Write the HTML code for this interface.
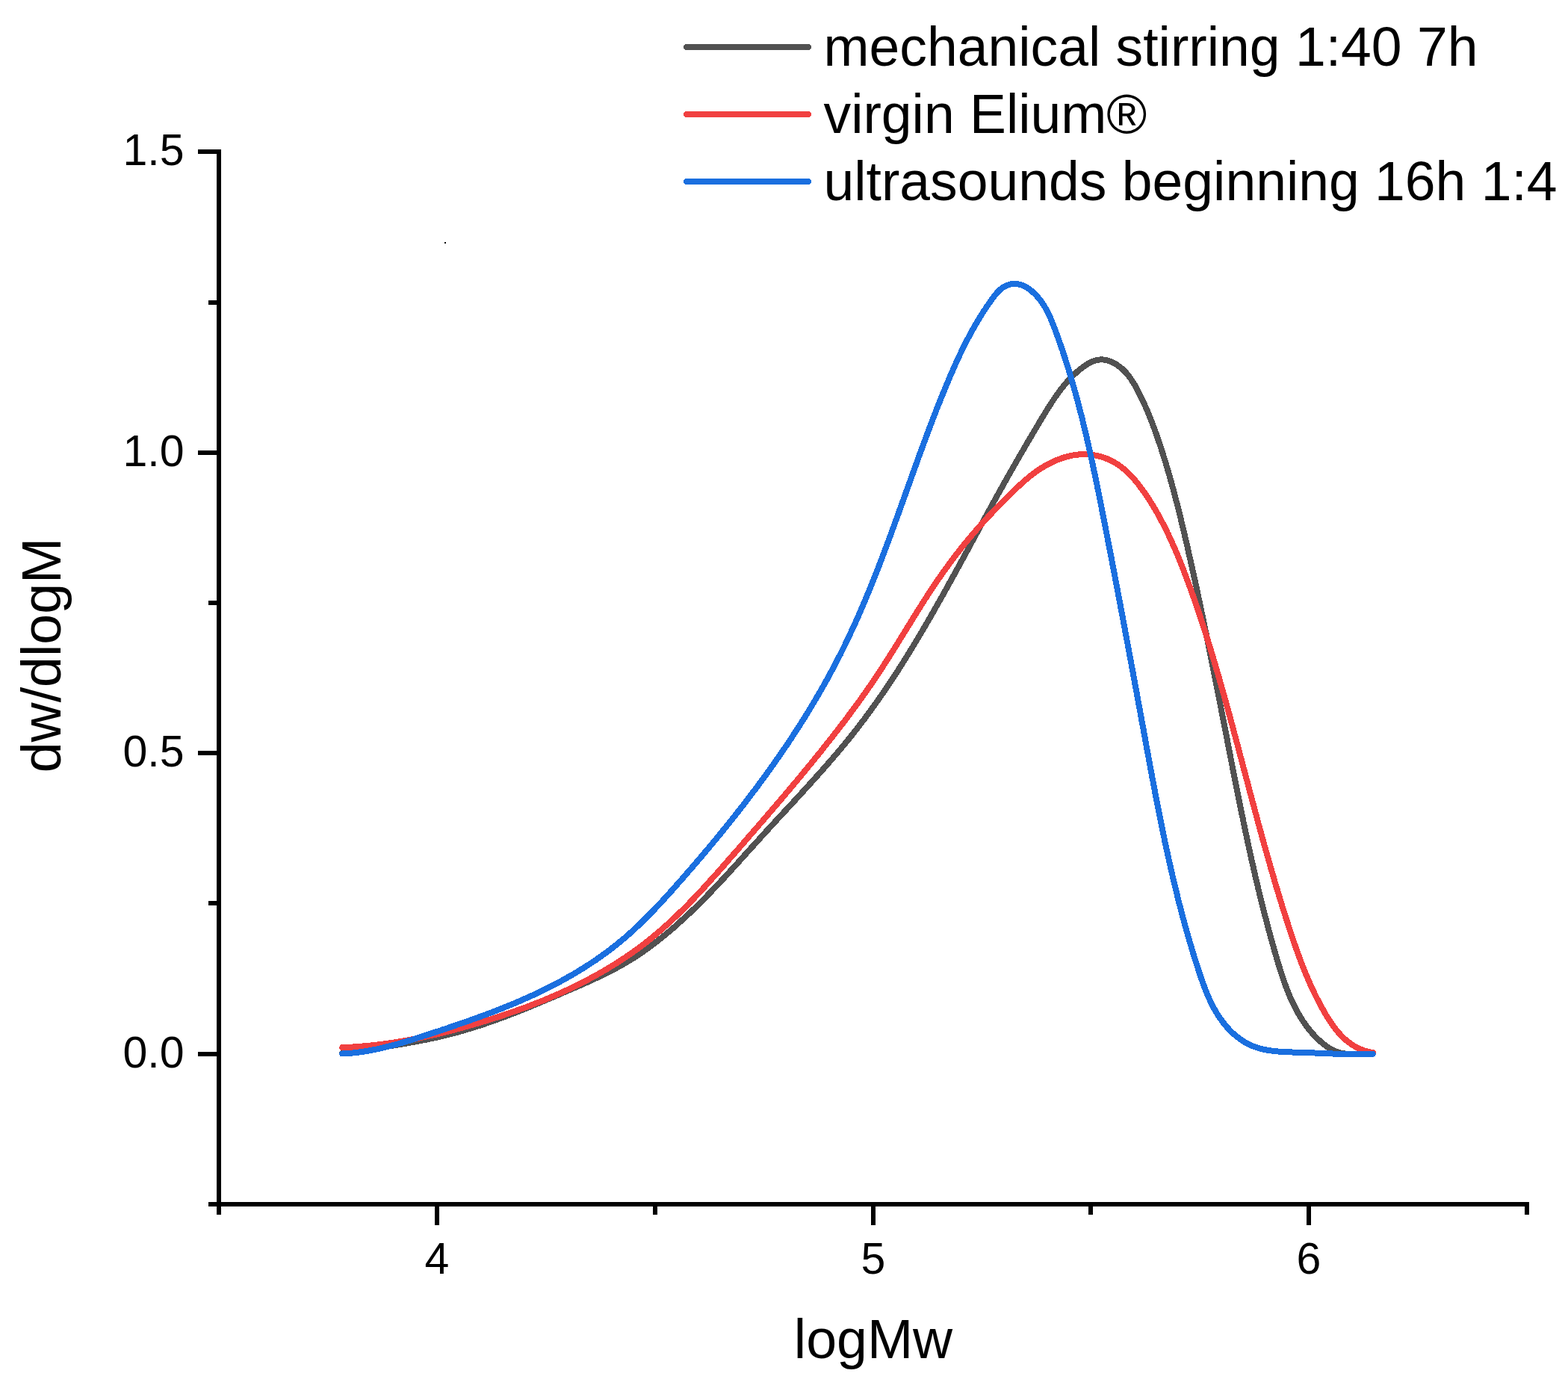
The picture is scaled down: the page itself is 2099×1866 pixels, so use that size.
<!DOCTYPE html>
<html><head><meta charset="utf-8"><style>
html,body{margin:0;padding:0;background:#fff;overflow:hidden;width:2099px;height:1866px;}
svg{display:block;}
text{font-family:"Liberation Sans", Arial, sans-serif;fill:#000;}
</style></head><body>
<svg width="2099" height="1866" viewBox="0 0 2099 1866">
<rect width="2099" height="1866" fill="#fff"/>
<rect x="290" y="200" width="6" height="1415" fill="#000"/>
<rect x="290" y="1609" width="1757" height="6" fill="#000"/>
<rect x="265" y="200" width="25" height="6" fill="#000"/>
<rect x="279" y="402" width="11" height="6" fill="#000"/>
<rect x="265" y="603" width="25" height="6" fill="#000"/>
<rect x="279" y="804" width="11" height="6" fill="#000"/>
<rect x="265" y="1005" width="25" height="6" fill="#000"/>
<rect x="279" y="1206" width="11" height="6" fill="#000"/>
<rect x="265" y="1408" width="25" height="6" fill="#000"/>
<rect x="279" y="1609" width="11" height="6" fill="#000"/>
<rect x="290" y="1615" width="6" height="11" fill="#000"/>
<rect x="582" y="1615" width="6" height="25" fill="#000"/>
<rect x="874" y="1615" width="6" height="11" fill="#000"/>
<rect x="1166" y="1615" width="6" height="25" fill="#000"/>
<rect x="1457" y="1615" width="6" height="11" fill="#000"/>
<rect x="1749" y="1615" width="6" height="25" fill="#000"/>
<rect x="2041" y="1615" width="6" height="11" fill="#000"/>
<text x="246.5" y="1429.0" text-anchor="end" font-size="59">0.0</text>
<text x="246.5" y="1026.0" text-anchor="end" font-size="59">0.5</text>
<text x="246.5" y="624.0" text-anchor="end" font-size="59">1.0</text>
<text x="246.5" y="221.0" text-anchor="end" font-size="59">1.5</text>
<text x="585.0" y="1705" text-anchor="middle" font-size="59">4</text>
<text x="1169.0" y="1705" text-anchor="middle" font-size="59">5</text>
<text x="1752.0" y="1705" text-anchor="middle" font-size="59">6</text>
<text x="1169" y="1818" text-anchor="middle" font-size="73.5">logMw</text>
<text transform="translate(81.3,877) rotate(-90)" x="0" y="0" text-anchor="middle" font-size="73.5">dw/dlogM</text>
<rect x="595" y="324" width="2" height="2" fill="#000"/>
<path d="M458.3,1409.8 L461.4,1409.3 464.4,1408.9 467.5,1408.4 470.6,1407.9 473.7,1407.5 476.8,1407.0 479.9,1406.6 482.9,1406.1 486.0,1405.7 489.1,1405.2 492.2,1404.7 495.3,1404.3 498.4,1403.8 501.5,1403.4 504.5,1402.9 507.6,1402.4 510.7,1402.0 513.8,1401.5 516.9,1401.0 520.0,1400.5 523.1,1400.1 526.2,1399.6 529.2,1399.1 532.3,1398.6 535.4,1398.1 538.5,1397.5 541.6,1397.0 544.6,1396.5 547.7,1395.9 550.8,1395.4 553.9,1394.8 556.9,1394.3 560.0,1393.7 563.1,1393.1 566.1,1392.5 569.2,1391.9 572.2,1391.3 575.3,1390.6 578.3,1390.0 581.4,1389.3 584.4,1388.7 587.5,1388.0 590.5,1387.3 593.5,1386.6 596.6,1385.8 599.6,1385.1 602.6,1384.3 605.6,1383.5 608.7,1382.7 611.7,1381.9 614.7,1381.1 617.7,1380.3 620.7,1379.4 623.6,1378.5 626.6,1377.6 629.6,1376.7 632.6,1375.8 635.6,1374.9 638.5,1373.9 641.5,1373.0 644.5,1372.0 647.4,1371.0 650.4,1370.0 653.3,1369.0 656.3,1368.0 659.2,1366.9 662.2,1365.9 665.1,1364.8 668.0,1363.8 671.0,1362.7 673.9,1361.6 676.8,1360.5 679.7,1359.4 682.7,1358.3 685.6,1357.1 688.5,1356.0 691.4,1354.9 694.3,1353.7 697.2,1352.6 700.1,1351.4 703.0,1350.2 705.9,1349.1 708.8,1347.9 711.7,1346.7 714.6,1345.5 717.5,1344.3 720.4,1343.1 723.3,1341.9 726.1,1340.7 729.0,1339.5 731.9,1338.2 734.8,1337.0 737.7,1335.8 740.5,1334.6 743.4,1333.3 746.3,1332.1 749.2,1330.9 752.0,1329.6 754.9,1328.4 757.8,1327.2 760.6,1325.9 763.5,1324.7 766.3,1323.5 769.2,1322.2 772.1,1321.0 774.9,1319.7 777.8,1318.5 780.6,1317.2 783.5,1315.9 786.3,1314.7 789.1,1313.4 792.0,1312.1 794.8,1310.8 797.6,1309.5 800.4,1308.2 803.2,1306.8 806.0,1305.5 808.8,1304.1 811.6,1302.7 814.4,1301.3 817.2,1299.9 819.9,1298.5 822.7,1297.0 825.4,1295.6 828.1,1294.1 830.9,1292.6 833.6,1291.0 836.3,1289.5 839.0,1287.9 841.7,1286.3 844.3,1284.7 847.0,1283.1 849.6,1281.4 852.3,1279.7 854.9,1278.0 857.5,1276.2 860.1,1274.4 862.7,1272.6 865.2,1270.8 867.8,1269.0 870.3,1267.1 872.8,1265.2 875.3,1263.3 877.8,1261.4 880.3,1259.5 882.8,1257.5 885.2,1255.6 887.7,1253.6 890.1,1251.6 892.5,1249.6 894.9,1247.6 897.3,1245.6 899.7,1243.6 902.0,1241.5 904.4,1239.5 906.7,1237.4 909.0,1235.3 911.3,1233.2 913.6,1231.1 915.9,1229.0 918.2,1226.9 920.5,1224.8 922.8,1222.6 925.0,1220.5 927.2,1218.3 929.5,1216.2 931.7,1214.0 933.9,1211.8 936.1,1209.6 938.3,1207.4 940.5,1205.2 942.7,1203.0 944.9,1200.8 947.1,1198.6 949.2,1196.3 951.4,1194.1 953.5,1191.8 955.7,1189.6 957.8,1187.3 960.0,1185.1 962.1,1182.8 964.2,1180.5 966.3,1178.2 968.5,1176.0 970.6,1173.7 972.7,1171.4 974.8,1169.1 976.9,1166.8 979.0,1164.5 981.1,1162.2 983.2,1159.9 985.3,1157.6 987.4,1155.3 989.5,1153.0 991.6,1150.6 993.6,1148.3 995.7,1146.0 997.8,1143.7 999.9,1141.4 1002.0,1139.1 1004.1,1136.7 1006.2,1134.4 1008.3,1132.1 1010.4,1129.8 1012.5,1127.5 1014.6,1125.2 1016.7,1122.8 1018.8,1120.5 1020.9,1118.2 1023.0,1115.9 1025.1,1113.6 1027.2,1111.3 1029.3,1109.0 1031.4,1106.7 1033.6,1104.4 1035.7,1102.1 1037.8,1099.8 1039.9,1097.5 1042.0,1095.2 1044.2,1092.9 1046.3,1090.6 1048.4,1088.3 1050.6,1086.0 1052.7,1083.7 1054.8,1081.4 1056.9,1079.1 1059.1,1076.8 1061.2,1074.5 1063.3,1072.2 1065.4,1069.9 1067.5,1067.6 1069.7,1065.3 1071.8,1063.0 1073.9,1060.7 1076.0,1058.4 1078.1,1056.1 1080.2,1053.8 1082.3,1051.4 1084.4,1049.1 1086.5,1046.8 1088.6,1044.5 1090.7,1042.2 1092.8,1039.8 1094.9,1037.5 1097.0,1035.2 1099.1,1032.8 1101.1,1030.5 1103.2,1028.2 1105.3,1025.8 1107.3,1023.5 1109.4,1021.1 1111.4,1018.7 1113.5,1016.4 1115.5,1014.0 1117.5,1011.6 1119.6,1009.3 1121.6,1006.9 1123.6,1004.5 1125.6,1002.1 1127.6,999.7 1129.6,997.3 1131.6,994.9 1133.5,992.5 1135.5,990.1 1137.5,987.7 1139.4,985.2 1141.4,982.8 1143.3,980.3 1145.2,977.9 1147.1,975.4 1149.0,973.0 1150.9,970.5 1152.8,968.0 1154.7,965.5 1156.6,963.1 1158.4,960.6 1160.3,958.1 1162.1,955.6 1164.0,953.1 1165.8,950.5 1167.6,948.0 1169.5,945.5 1171.3,943.0 1173.1,940.4 1174.9,937.9 1176.7,935.3 1178.4,932.8 1180.2,930.2 1182.0,927.6 1183.7,925.1 1185.5,922.5 1187.2,919.9 1189.0,917.3 1190.7,914.7 1192.4,912.2 1194.2,909.6 1195.9,907.0 1197.6,904.3 1199.3,901.7 1201.0,899.1 1202.7,896.5 1204.3,893.9 1206.0,891.2 1207.7,888.6 1209.3,886.0 1211.0,883.3 1212.7,880.7 1214.3,878.0 1216.0,875.4 1217.6,872.7 1219.2,870.1 1220.8,867.4 1222.5,864.7 1224.1,862.1 1225.7,859.4 1227.3,856.7 1228.9,854.1 1230.5,851.4 1232.1,848.7 1233.7,846.0 1235.3,843.3 1236.9,840.6 1238.5,837.9 1240.0,835.2 1241.6,832.5 1243.2,829.8 1244.7,827.1 1246.3,824.4 1247.8,821.7 1249.4,819.0 1250.9,816.3 1252.5,813.5 1254.0,810.8 1255.6,808.1 1257.1,805.4 1258.7,802.7 1260.2,799.9 1261.7,797.2 1263.2,794.5 1264.8,791.7 1266.3,789.0 1267.8,786.3 1269.3,783.5 1270.8,780.8 1272.3,778.1 1273.9,775.3 1275.4,772.6 1276.9,769.8 1278.4,767.1 1279.9,764.4 1281.4,761.6 1282.9,758.9 1284.4,756.1 1285.9,753.4 1287.4,750.6 1288.9,747.9 1290.4,745.1 1291.9,742.4 1293.4,739.7 1294.9,736.9 1296.3,734.2 1297.8,731.4 1299.3,728.7 1300.8,725.9 1302.3,723.2 1303.8,720.4 1305.3,717.7 1306.8,714.9 1308.3,712.2 1309.8,709.4 1311.3,706.7 1312.7,704.0 1314.2,701.2 1315.7,698.5 1317.2,695.7 1318.7,693.0 1320.2,690.3 1321.7,687.5 1323.2,684.8 1324.7,682.1 1326.2,679.3 1327.7,676.6 1329.2,673.9 1330.7,671.1 1332.2,668.4 1333.7,665.7 1335.2,663.0 1336.7,660.2 1338.2,657.5 1339.7,654.8 1341.3,652.1 1342.8,649.4 1344.3,646.7 1345.8,644.0 1347.3,641.3 1348.9,638.5 1350.4,635.8 1351.9,633.1 1353.5,630.4 1355.0,627.7 1356.5,625.0 1358.1,622.3 1359.6,619.6 1361.2,616.9 1362.7,614.2 1364.3,611.5 1365.8,608.8 1367.4,606.2 1369.0,603.5 1370.5,600.8 1372.1,598.1 1373.7,595.4 1375.2,592.7 1376.8,590.0 1378.4,587.3 1380.0,584.6 1381.6,581.9 1383.2,579.2 1384.8,576.5 1386.4,573.9 1388.0,571.2 1389.6,568.5 1391.2,565.8 1392.8,563.1 1394.4,560.4 1396.1,557.7 1397.7,555.0 1399.3,552.3 1401.0,549.6 1402.6,547.0 1404.3,544.3 1406.0,541.6 1407.7,539.0 1409.4,536.4 1411.2,533.8 1412.9,531.2 1414.7,528.6 1416.6,526.1 1418.4,523.5 1420.3,521.1 1422.2,518.6 1424.2,516.2 1426.1,513.8 1428.2,511.4 1430.2,509.1 1432.3,506.9 1434.5,504.7 1436.7,502.5 1438.9,500.4 1441.2,498.3 1443.6,496.3 1446.0,494.3 1448.5,492.4 1451.0,490.6 1453.6,488.8 1456.2,487.1 1458.9,485.6 1461.7,484.3 1464.5,483.2 1467.3,482.3 1470.2,481.7 1473.1,481.4 1476.1,481.4 1479.1,481.8 1482.1,482.4 1485.1,483.3 1488.0,484.5 1490.9,485.9 1493.8,487.5 1496.5,489.3 1499.1,491.2 1501.6,493.2 1504.0,495.4 1506.2,497.6 1508.3,500.0 1510.3,502.4 1512.2,504.9 1514.0,507.5 1515.7,510.1 1517.4,512.7 1519.0,515.4 1520.5,518.2 1522.0,520.9 1523.5,523.7 1524.9,526.5 1526.3,529.3 1527.7,532.1 1529.1,534.9 1530.4,537.8 1531.7,540.6 1533.0,543.5 1534.3,546.3 1535.5,549.2 1536.7,552.1 1537.9,555.0 1539.1,557.9 1540.3,560.8 1541.4,563.7 1542.5,566.6 1543.6,569.5 1544.7,572.4 1545.8,575.4 1546.8,578.3 1547.9,581.2 1548.9,584.2 1549.9,587.1 1550.9,590.1 1551.9,593.0 1552.9,596.0 1553.9,599.0 1554.9,601.9 1555.8,604.9 1556.8,607.9 1557.7,610.8 1558.6,613.8 1559.5,616.8 1560.5,619.8 1561.4,622.8 1562.3,625.7 1563.1,628.7 1564.0,631.7 1564.9,634.7 1565.7,637.7 1566.6,640.7 1567.4,643.7 1568.3,646.7 1569.1,649.7 1569.9,652.7 1570.7,655.7 1571.5,658.7 1572.3,661.8 1573.1,664.8 1573.9,667.8 1574.7,670.8 1575.5,673.8 1576.3,676.8 1577.0,679.9 1577.8,682.9 1578.5,685.9 1579.3,688.9 1580.0,692.0 1580.8,695.0 1581.5,698.0 1582.2,701.1 1583.0,704.1 1583.7,707.1 1584.4,710.2 1585.1,713.2 1585.8,716.2 1586.5,719.3 1587.3,722.3 1588.0,725.4 1588.7,728.4 1589.4,731.4 1590.1,734.5 1590.8,737.5 1591.4,740.6 1592.1,743.6 1592.8,746.7 1593.5,749.7 1594.2,752.8 1594.9,755.8 1595.6,758.9 1596.2,761.9 1596.9,765.0 1597.6,768.0 1598.2,771.1 1598.9,774.1 1599.6,777.2 1600.2,780.2 1600.9,783.3 1601.6,786.3 1602.2,789.4 1602.9,792.4 1603.5,795.5 1604.2,798.5 1604.8,801.6 1605.5,804.6 1606.1,807.7 1606.8,810.7 1607.4,813.8 1608.1,816.9 1608.7,819.9 1609.4,823.0 1610.0,826.0 1610.6,829.1 1611.3,832.1 1611.9,835.2 1612.5,838.3 1613.2,841.3 1613.8,844.4 1614.4,847.4 1615.1,850.5 1615.7,853.6 1616.3,856.6 1616.9,859.7 1617.6,862.7 1618.2,865.8 1618.8,868.9 1619.4,871.9 1620.0,875.0 1620.6,878.1 1621.3,881.1 1621.9,884.2 1622.5,887.2 1623.1,890.3 1623.7,893.4 1624.3,896.4 1624.9,899.5 1625.5,902.6 1626.2,905.6 1626.8,908.7 1627.4,911.7 1628.0,914.8 1628.6,917.9 1629.2,920.9 1629.8,924.0 1630.4,927.1 1631.0,930.1 1631.6,933.2 1632.2,936.3 1632.8,939.3 1633.4,942.4 1634.0,945.4 1634.6,948.5 1635.2,951.6 1635.8,954.6 1636.4,957.7 1637.0,960.8 1637.6,963.8 1638.2,966.9 1638.8,969.9 1639.4,973.0 1640.0,976.1 1640.6,979.1 1641.2,982.2 1641.8,985.3 1642.4,988.3 1643.0,991.4 1643.5,994.4 1644.1,997.5 1644.7,1000.6 1645.3,1003.6 1645.9,1006.7 1646.5,1009.7 1647.1,1012.8 1647.7,1015.9 1648.3,1018.9 1648.9,1022.0 1649.5,1025.0 1650.1,1028.1 1650.7,1031.2 1651.3,1034.2 1651.9,1037.3 1652.5,1040.3 1653.1,1043.4 1653.7,1046.4 1654.3,1049.5 1654.9,1052.6 1655.5,1055.6 1656.1,1058.7 1656.8,1061.7 1657.4,1064.8 1658.0,1067.8 1658.6,1070.9 1659.2,1073.9 1659.8,1077.0 1660.4,1080.0 1661.1,1083.1 1661.7,1086.2 1662.3,1089.2 1662.9,1092.3 1663.6,1095.3 1664.2,1098.4 1664.8,1101.4 1665.5,1104.5 1666.1,1107.5 1666.7,1110.6 1667.4,1113.6 1668.0,1116.7 1668.7,1119.7 1669.3,1122.8 1670.0,1125.8 1670.6,1128.8 1671.3,1131.9 1671.9,1134.9 1672.6,1138.0 1673.3,1141.0 1673.9,1144.1 1674.6,1147.1 1675.3,1150.2 1676.0,1153.2 1676.7,1156.3 1677.4,1159.3 1678.0,1162.3 1678.7,1165.4 1679.4,1168.4 1680.1,1171.5 1680.8,1174.5 1681.6,1177.5 1682.3,1180.6 1683.0,1183.6 1683.7,1186.7 1684.4,1189.7 1685.2,1192.7 1685.9,1195.8 1686.6,1198.8 1687.4,1201.9 1688.1,1204.9 1688.9,1207.9 1689.6,1211.0 1690.4,1214.0 1691.2,1217.0 1691.9,1220.1 1692.7,1223.1 1693.5,1226.1 1694.3,1229.2 1695.1,1232.2 1695.9,1235.2 1696.7,1238.2 1697.5,1241.3 1698.3,1244.3 1699.1,1247.3 1699.9,1250.4 1700.7,1253.4 1701.6,1256.4 1702.4,1259.4 1703.3,1262.5 1704.1,1265.5 1705.0,1268.5 1705.8,1271.5 1706.7,1274.6 1707.6,1277.6 1708.5,1280.6 1709.3,1283.6 1710.2,1286.7 1711.1,1289.7 1712.1,1292.7 1713.0,1295.7 1713.9,1298.7 1714.9,1301.7 1715.8,1304.7 1716.8,1307.7 1717.8,1310.6 1718.9,1313.6 1719.9,1316.5 1721.0,1319.5 1722.1,1322.4 1723.2,1325.3 1724.4,1328.2 1725.5,1331.1 1726.7,1333.9 1728.0,1336.8 1729.2,1339.6 1730.5,1342.4 1731.9,1345.2 1733.3,1347.9 1734.7,1350.7 1736.1,1353.4 1737.6,1356.0 1739.2,1358.7 1740.7,1361.3 1742.4,1363.9 1744.0,1366.5 1745.7,1369.0 1747.5,1371.6 1749.3,1374.0 1751.2,1376.5 1753.1,1378.9 1755.1,1381.3 1757.1,1383.6 1759.2,1385.9 1761.4,1388.2 1763.6,1390.4 1765.9,1392.5 1768.2,1394.6 1770.6,1396.7 1773.0,1398.6 1775.6,1400.5 1778.2,1402.2 1780.8,1403.8 1783.5,1405.3 1786.3,1406.6 1789.1,1407.8 1792.0,1408.8 1795.0,1409.6 1798.1,1410.2 1801.2,1410.6 1804.3,1410.8 1807.5,1410.9 1810.8,1410.8 1814.0,1410.7 1817.3,1410.5 1820.5,1410.4 1823.7,1410.2 1826.9,1410.1 1830.0,1410.1 1833.1,1410.3 1836.0,1410.6" fill="none" stroke="#515151" stroke-width="8" stroke-linejoin="round" stroke-linecap="round" shape-rendering="crispEdges"/>
<path d="M458.3,1402.2 L461.2,1402.1 464.0,1401.9 466.9,1401.8 469.7,1401.6 472.6,1401.5 475.4,1401.3 478.3,1401.1 481.1,1400.9 484.0,1400.6 486.8,1400.4 489.6,1400.1 492.4,1399.9 495.2,1399.6 498.1,1399.3 500.9,1399.0 503.7,1398.7 506.5,1398.4 509.3,1398.0 512.1,1397.7 514.9,1397.3 517.6,1396.9 520.4,1396.5 523.2,1396.1 526.0,1395.7 528.8,1395.3 531.5,1394.9 534.3,1394.4 537.1,1394.0 539.8,1393.5 542.6,1393.0 545.4,1392.5 548.1,1392.0 550.9,1391.5 553.6,1391.0 556.4,1390.5 559.1,1389.9 561.9,1389.4 564.6,1388.8 567.3,1388.2 570.1,1387.6 572.8,1387.0 575.5,1386.4 578.3,1385.8 581.0,1385.2 583.7,1384.6 586.4,1383.9 589.2,1383.3 591.9,1382.6 594.6,1382.0 597.3,1381.3 600.0,1380.6 602.8,1379.9 605.5,1379.2 608.2,1378.5 610.9,1377.8 613.6,1377.0 616.3,1376.3 619.0,1375.6 621.7,1374.8 624.4,1374.1 627.2,1373.3 629.9,1372.5 632.6,1371.7 635.3,1370.9 638.0,1370.2 640.7,1369.4 643.4,1368.5 646.1,1367.7 648.8,1366.9 651.5,1366.1 654.2,1365.2 656.9,1364.4 659.6,1363.5 662.3,1362.7 665.0,1361.8 667.7,1360.9 670.4,1360.0 673.1,1359.1 675.8,1358.2 678.4,1357.3 681.1,1356.4 683.8,1355.5 686.5,1354.5 689.2,1353.6 691.8,1352.6 694.5,1351.7 697.2,1350.7 699.9,1349.7 702.5,1348.8 705.2,1347.8 707.8,1346.8 710.5,1345.7 713.1,1344.7 715.8,1343.7 718.4,1342.6 721.1,1341.6 723.7,1340.5 726.3,1339.5 729.0,1338.4 731.6,1337.3 734.2,1336.2 736.8,1335.1 739.4,1334.0 742.0,1332.9 744.6,1331.7 747.2,1330.6 749.8,1329.4 752.4,1328.3 755.0,1327.1 757.6,1325.9 760.1,1324.7 762.7,1323.5 765.2,1322.3 767.8,1321.0 770.3,1319.8 772.9,1318.5 775.4,1317.3 777.9,1316.0 780.5,1314.7 783.0,1313.4 785.5,1312.1 788.0,1310.8 790.5,1309.5 793.0,1308.2 795.4,1306.8 797.9,1305.4 800.4,1304.1 802.8,1302.7 805.3,1301.3 807.7,1299.9 810.2,1298.5 812.6,1297.0 815.0,1295.6 817.4,1294.1 819.8,1292.7 822.2,1291.2 824.6,1289.7 827.0,1288.2 829.3,1286.7 831.7,1285.1 834.0,1283.6 836.4,1282.1 838.7,1280.5 841.0,1278.9 843.3,1277.3 845.6,1275.7 847.9,1274.1 850.2,1272.5 852.5,1270.8 854.7,1269.2 857.0,1267.5 859.2,1265.8 861.5,1264.1 863.7,1262.4 865.9,1260.7 868.1,1258.9 870.3,1257.2 872.4,1255.4 874.6,1253.6 876.8,1251.8 878.9,1250.0 881.0,1248.2 883.2,1246.4 885.3,1244.6 887.4,1242.7 889.5,1240.8 891.6,1239.0 893.7,1237.1 895.7,1235.2 897.8,1233.3 899.9,1231.4 901.9,1229.4 903.9,1227.5 906.0,1225.6 908.0,1223.6 910.0,1221.6 912.0,1219.7 914.0,1217.7 916.0,1215.7 918.0,1213.7 920.0,1211.7 922.0,1209.7 923.9,1207.7 925.9,1205.6 927.9,1203.6 929.8,1201.6 931.8,1199.5 933.7,1197.5 935.6,1195.4 937.6,1193.3 939.5,1191.3 941.4,1189.2 943.3,1187.1 945.2,1185.0 947.1,1182.9 949.0,1180.8 950.9,1178.7 952.8,1176.6 954.7,1174.5 956.6,1172.4 958.5,1170.3 960.4,1168.2 962.3,1166.1 964.1,1163.9 966.0,1161.8 967.9,1159.7 969.8,1157.6 971.6,1155.4 973.5,1153.3 975.3,1151.2 977.2,1149.0 979.1,1146.9 980.9,1144.8 982.8,1142.7 984.7,1140.5 986.5,1138.4 988.4,1136.3 990.2,1134.1 992.1,1132.0 993.9,1129.9 995.8,1127.7 997.6,1125.6 999.5,1123.5 1001.3,1121.3 1003.2,1119.2 1005.0,1117.1 1006.9,1115.0 1008.7,1112.8 1010.6,1110.7 1012.4,1108.6 1014.3,1106.4 1016.1,1104.3 1018.0,1102.2 1019.8,1100.0 1021.7,1097.9 1023.5,1095.8 1025.3,1093.6 1027.2,1091.5 1029.0,1089.4 1030.8,1087.2 1032.7,1085.1 1034.5,1083.0 1036.3,1080.8 1038.2,1078.7 1040.0,1076.5 1041.8,1074.4 1043.7,1072.3 1045.5,1070.1 1047.3,1068.0 1049.1,1065.8 1050.9,1063.7 1052.8,1061.5 1054.6,1059.4 1056.4,1057.2 1058.2,1055.1 1060.0,1052.9 1061.8,1050.8 1063.6,1048.6 1065.4,1046.4 1067.3,1044.3 1069.1,1042.1 1070.9,1040.0 1072.7,1037.8 1074.5,1035.6 1076.2,1033.5 1078.0,1031.3 1079.8,1029.1 1081.6,1026.9 1083.4,1024.8 1085.2,1022.6 1087.0,1020.4 1088.8,1018.2 1090.5,1016.0 1092.3,1013.8 1094.1,1011.6 1095.9,1009.4 1097.6,1007.3 1099.4,1005.1 1101.2,1002.9 1102.9,1000.6 1104.7,998.4 1106.4,996.2 1108.2,994.0 1109.9,991.8 1111.7,989.6 1113.4,987.4 1115.2,985.1 1116.9,982.9 1118.6,980.7 1120.4,978.5 1122.1,976.2 1123.8,974.0 1125.5,971.7 1127.2,969.5 1129.0,967.3 1130.7,965.0 1132.4,962.8 1134.1,960.5 1135.7,958.2 1137.4,956.0 1139.1,953.7 1140.8,951.4 1142.5,949.2 1144.1,946.9 1145.8,944.6 1147.5,942.3 1149.1,940.1 1150.8,937.8 1152.4,935.5 1154.1,933.2 1155.7,930.9 1157.3,928.6 1159.0,926.3 1160.6,924.0 1162.2,921.6 1163.8,919.3 1165.4,917.0 1167.0,914.7 1168.6,912.3 1170.2,910.0 1171.7,907.7 1173.3,905.3 1174.9,903.0 1176.4,900.6 1178.0,898.3 1179.5,895.9 1181.1,893.6 1182.6,891.2 1184.1,888.8 1185.7,886.4 1187.2,884.1 1188.7,881.7 1190.2,879.3 1191.7,876.9 1193.2,874.5 1194.7,872.2 1196.2,869.8 1197.7,867.4 1199.2,865.0 1200.7,862.6 1202.2,860.2 1203.7,857.8 1205.1,855.4 1206.6,853.0 1208.1,850.6 1209.6,848.2 1211.1,845.8 1212.5,843.4 1214.0,841.0 1215.5,838.6 1217.0,836.2 1218.5,833.8 1219.9,831.4 1221.4,829.0 1222.9,826.6 1224.4,824.2 1225.9,821.8 1227.4,819.4 1228.9,817.0 1230.4,814.6 1231.9,812.3 1233.4,809.9 1234.9,807.5 1236.4,805.1 1237.9,802.7 1239.5,800.4 1241.0,798.0 1242.5,795.6 1244.1,793.3 1245.6,790.9 1247.2,788.6 1248.7,786.2 1250.3,783.9 1251.9,781.5 1253.5,779.2 1255.1,776.8 1256.7,774.5 1258.3,772.2 1259.9,769.9 1261.5,767.6 1263.1,765.3 1264.8,763.0 1266.4,760.7 1268.1,758.4 1269.8,756.1 1271.4,753.8 1273.1,751.6 1274.8,749.3 1276.5,747.0 1278.2,744.8 1279.9,742.5 1281.7,740.3 1283.4,738.1 1285.2,735.8 1286.9,733.6 1288.7,731.4 1290.4,729.2 1292.2,727.0 1294.0,724.8 1295.8,722.7 1297.6,720.5 1299.4,718.3 1301.2,716.2 1303.0,714.0 1304.9,711.9 1306.7,709.8 1308.6,707.6 1310.4,705.5 1312.3,703.4 1314.2,701.3 1316.0,699.2 1317.9,697.1 1319.8,695.1 1321.7,693.0 1323.6,691.0 1325.5,688.9 1327.5,686.9 1329.4,684.8 1331.3,682.8 1333.3,680.8 1335.2,678.8 1337.2,676.8 1339.1,674.8 1341.1,672.8 1343.1,670.8 1345.1,668.8 1347.1,666.8 1349.0,664.9 1351.0,662.9 1353.1,660.9 1355.1,659.0 1357.1,657.0 1359.1,655.1 1361.1,653.1 1363.2,651.2 1365.3,649.3 1367.3,647.4 1369.4,645.5 1371.5,643.6 1373.7,641.8 1375.8,640.0 1378.0,638.2 1380.2,636.4 1382.5,634.7 1384.7,633.0 1387.0,631.3 1389.4,629.7 1391.8,628.1 1394.2,626.5 1396.6,625.0 1399.1,623.6 1401.6,622.2 1404.1,620.8 1406.7,619.5 1409.3,618.3 1411.9,617.1 1414.5,616.0 1417.2,614.9 1419.9,613.9 1422.6,613.0 1425.3,612.1 1428.0,611.4 1430.7,610.7 1433.5,610.0 1436.2,609.5 1439.0,609.0 1441.8,608.7 1444.5,608.4 1447.3,608.2 1450.1,608.1 1452.8,608.1 1455.6,608.2 1458.4,608.4 1461.1,608.7 1463.9,609.1 1466.6,609.6 1469.3,610.2 1472.0,610.9 1474.7,611.6 1477.3,612.5 1479.9,613.4 1482.5,614.4 1485.1,615.6 1487.6,616.8 1490.0,618.0 1492.5,619.4 1494.8,620.8 1497.2,622.4 1499.5,624.0 1501.7,625.6 1503.9,627.4 1506.0,629.2 1508.1,631.0 1510.2,633.0 1512.2,635.0 1514.2,637.0 1516.1,639.1 1518.0,641.2 1519.8,643.4 1521.7,645.6 1523.5,647.8 1525.2,650.1 1526.9,652.4 1528.6,654.7 1530.3,657.0 1532.0,659.4 1533.6,661.8 1535.2,664.1 1536.8,666.5 1538.3,668.9 1539.9,671.3 1541.4,673.7 1542.9,676.2 1544.4,678.6 1545.8,681.0 1547.2,683.5 1548.7,685.9 1550.0,688.4 1551.4,690.9 1552.8,693.4 1554.1,695.9 1555.4,698.4 1556.8,700.9 1558.0,703.4 1559.3,705.9 1560.6,708.4 1561.8,710.9 1563.0,713.5 1564.3,716.0 1565.5,718.6 1566.6,721.1 1567.8,723.7 1569.0,726.2 1570.1,728.8 1571.3,731.4 1572.4,734.0 1573.5,736.5 1574.6,739.1 1575.7,741.7 1576.8,744.3 1577.8,746.9 1578.9,749.5 1579.9,752.1 1581.0,754.8 1582.0,757.4 1583.1,760.0 1584.1,762.6 1585.1,765.2 1586.1,767.9 1587.1,770.5 1588.1,773.1 1589.1,775.8 1590.1,778.4 1591.0,781.0 1592.0,783.7 1593.0,786.3 1593.9,789.0 1594.9,791.6 1595.8,794.3 1596.8,796.9 1597.7,799.6 1598.7,802.2 1599.6,804.9 1600.5,807.5 1601.4,810.2 1602.4,812.8 1603.3,815.5 1604.2,818.2 1605.1,820.8 1606.0,823.5 1606.9,826.2 1607.7,828.9 1608.6,831.5 1609.5,834.2 1610.4,836.9 1611.2,839.6 1612.1,842.2 1613.0,844.9 1613.8,847.6 1614.7,850.3 1615.5,853.0 1616.4,855.7 1617.2,858.4 1618.1,861.1 1618.9,863.7 1619.7,866.4 1620.5,869.1 1621.4,871.8 1622.2,874.5 1623.0,877.2 1623.8,879.9 1624.6,882.6 1625.4,885.3 1626.2,888.0 1627.0,890.7 1627.8,893.5 1628.6,896.2 1629.4,898.9 1630.2,901.6 1631.0,904.3 1631.8,907.0 1632.5,909.7 1633.3,912.4 1634.1,915.1 1634.9,917.9 1635.6,920.6 1636.4,923.3 1637.2,926.0 1637.9,928.7 1638.7,931.4 1639.5,934.2 1640.2,936.9 1641.0,939.6 1641.7,942.3 1642.5,945.0 1643.2,947.8 1644.0,950.5 1644.7,953.2 1645.5,955.9 1646.2,958.7 1646.9,961.4 1647.7,964.1 1648.4,966.8 1649.2,969.6 1649.9,972.3 1650.6,975.0 1651.4,977.7 1652.1,980.5 1652.8,983.2 1653.5,985.9 1654.3,988.7 1655.0,991.4 1655.7,994.1 1656.5,996.8 1657.2,999.6 1657.9,1002.3 1658.6,1005.0 1659.4,1007.8 1660.1,1010.5 1660.8,1013.2 1661.5,1015.9 1662.3,1018.7 1663.0,1021.4 1663.7,1024.1 1664.4,1026.9 1665.1,1029.6 1665.9,1032.3 1666.6,1035.0 1667.3,1037.8 1668.0,1040.5 1668.8,1043.2 1669.5,1045.9 1670.2,1048.7 1670.9,1051.4 1671.7,1054.1 1672.4,1056.9 1673.1,1059.6 1673.8,1062.3 1674.6,1065.0 1675.3,1067.8 1676.0,1070.5 1676.7,1073.2 1677.5,1075.9 1678.2,1078.7 1678.9,1081.4 1679.7,1084.1 1680.4,1086.8 1681.1,1089.5 1681.9,1092.3 1682.6,1095.0 1683.3,1097.7 1684.1,1100.4 1684.8,1103.2 1685.6,1105.9 1686.3,1108.6 1687.0,1111.3 1687.8,1114.0 1688.5,1116.8 1689.3,1119.5 1690.0,1122.2 1690.8,1124.9 1691.5,1127.6 1692.3,1130.3 1693.0,1133.1 1693.8,1135.8 1694.6,1138.5 1695.3,1141.2 1696.1,1143.9 1696.9,1146.6 1697.6,1149.3 1698.4,1152.0 1699.2,1154.7 1700.0,1157.5 1700.7,1160.2 1701.5,1162.9 1702.3,1165.6 1703.1,1168.3 1703.9,1171.0 1704.7,1173.7 1705.4,1176.4 1706.2,1179.1 1707.0,1181.8 1707.8,1184.5 1708.6,1187.2 1709.5,1189.9 1710.3,1192.6 1711.1,1195.3 1711.9,1198.0 1712.7,1200.7 1713.5,1203.4 1714.4,1206.1 1715.2,1208.8 1716.0,1211.5 1716.8,1214.2 1717.7,1216.8 1718.5,1219.5 1719.4,1222.2 1720.2,1224.9 1721.1,1227.6 1721.9,1230.3 1722.8,1233.0 1723.7,1235.6 1724.5,1238.3 1725.4,1241.0 1726.3,1243.7 1727.1,1246.4 1728.0,1249.0 1728.9,1251.7 1729.8,1254.4 1730.7,1257.1 1731.6,1259.7 1732.5,1262.4 1733.5,1265.1 1734.4,1267.7 1735.3,1270.4 1736.3,1273.0 1737.2,1275.7 1738.2,1278.3 1739.2,1281.0 1740.1,1283.6 1741.1,1286.3 1742.1,1288.9 1743.1,1291.5 1744.2,1294.2 1745.2,1296.8 1746.3,1299.4 1747.3,1302.0 1748.4,1304.6 1749.5,1307.2 1750.6,1309.8 1751.7,1312.4 1752.8,1315.0 1754.0,1317.6 1755.1,1320.1 1756.3,1322.7 1757.5,1325.3 1758.7,1327.8 1760.0,1330.4 1761.2,1332.9 1762.5,1335.5 1763.8,1338.0 1765.1,1340.5 1766.4,1343.0 1767.7,1345.5 1769.1,1348.0 1770.5,1350.5 1771.9,1353.0 1773.3,1355.5 1774.7,1358.0 1776.2,1360.4 1777.7,1362.8 1779.2,1365.2 1780.8,1367.6 1782.4,1370.0 1784.0,1372.3 1785.6,1374.6 1787.3,1376.8 1789.1,1379.0 1790.8,1381.1 1792.7,1383.2 1794.5,1385.3 1796.4,1387.3 1798.4,1389.2 1800.4,1391.1 1802.5,1392.9 1804.6,1394.6 1806.8,1396.2 1809.0,1397.8 1811.3,1399.3 1813.7,1400.7 1816.1,1402.0 1818.6,1403.3 1821.2,1404.4 1823.8,1405.4 1826.5,1406.4 1829.2,1407.2 1832.1,1407.9 1835.0,1408.5 1838.0,1409.0" fill="none" stroke="#F14040" stroke-width="8" stroke-linejoin="round" stroke-linecap="round" shape-rendering="crispEdges"/>
<path d="M458.3,1410.4 L461.7,1410.2 465.1,1410.0 468.5,1409.8 471.9,1409.5 475.3,1409.1 478.7,1408.7 482.1,1408.3 485.4,1407.8 488.8,1407.3 492.1,1406.7 495.4,1406.2 498.8,1405.5 502.1,1404.9 505.4,1404.2 508.7,1403.5 512.0,1402.7 515.3,1401.9 518.6,1401.1 521.8,1400.3 525.1,1399.4 528.4,1398.6 531.6,1397.7 534.9,1396.7 538.1,1395.8 541.4,1394.8 544.6,1393.9 547.9,1392.9 551.1,1391.9 554.3,1390.9 557.6,1389.8 560.8,1388.8 564.0,1387.8 567.2,1386.7 570.5,1385.7 573.7,1384.6 576.9,1383.6 580.1,1382.5 583.3,1381.4 586.6,1380.4 589.8,1379.3 593.0,1378.2 596.2,1377.2 599.4,1376.1 602.6,1375.0 605.8,1373.9 609.0,1372.8 612.2,1371.7 615.4,1370.6 618.6,1369.5 621.8,1368.4 625.0,1367.3 628.2,1366.2 631.4,1365.0 634.6,1363.9 637.8,1362.7 641.0,1361.6 644.1,1360.4 647.3,1359.3 650.5,1358.1 653.6,1356.9 656.8,1355.7 660.0,1354.5 663.1,1353.3 666.3,1352.0 669.4,1350.8 672.6,1349.6 675.7,1348.3 678.8,1347.0 682.0,1345.8 685.1,1344.5 688.2,1343.2 691.3,1341.8 694.4,1340.5 697.5,1339.2 700.6,1337.8 703.7,1336.4 706.8,1335.1 709.9,1333.7 713.0,1332.3 716.1,1330.8 719.1,1329.4 722.2,1327.9 725.2,1326.5 728.3,1325.0 731.3,1323.5 734.4,1322.0 737.4,1320.4 740.4,1318.9 743.4,1317.3 746.4,1315.7 749.4,1314.1 752.4,1312.5 755.4,1310.9 758.3,1309.2 761.3,1307.5 764.2,1305.9 767.2,1304.2 770.1,1302.4 773.0,1300.7 775.9,1298.9 778.8,1297.2 781.7,1295.4 784.5,1293.6 787.4,1291.7 790.2,1289.9 793.0,1288.0 795.8,1286.2 798.6,1284.3 801.4,1282.3 804.2,1280.4 806.9,1278.4 809.7,1276.5 812.4,1274.5 815.1,1272.4 817.8,1270.4 820.4,1268.3 823.1,1266.3 825.7,1264.2 828.3,1262.0 830.9,1259.9 833.5,1257.7 836.1,1255.6 838.6,1253.4 841.2,1251.1 843.7,1248.9 846.2,1246.6 848.6,1244.4 851.1,1242.1 853.6,1239.8 856.0,1237.5 858.4,1235.1 860.8,1232.8 863.2,1230.4 865.6,1228.0 868.0,1225.6 870.4,1223.2 872.7,1220.8 875.1,1218.4 877.4,1215.9 879.7,1213.5 882.0,1211.0 884.3,1208.5 886.6,1206.1 888.9,1203.6 891.2,1201.1 893.5,1198.6 895.8,1196.0 898.0,1193.5 900.3,1191.0 902.5,1188.5 904.8,1185.9 907.0,1183.4 909.3,1180.9 911.5,1178.3 913.8,1175.8 916.0,1173.2 918.2,1170.6 920.4,1168.1 922.7,1165.5 924.9,1163.0 927.1,1160.4 929.3,1157.8 931.5,1155.2 933.7,1152.7 936.0,1150.1 938.2,1147.5 940.3,1144.9 942.5,1142.3 944.7,1139.7 946.9,1137.1 949.1,1134.5 951.3,1131.9 953.5,1129.3 955.6,1126.7 957.8,1124.1 959.9,1121.4 962.1,1118.8 964.3,1116.2 966.4,1113.6 968.5,1110.9 970.7,1108.3 972.8,1105.6 975.0,1103.0 977.1,1100.3 979.2,1097.7 981.3,1095.0 983.4,1092.4 985.5,1089.7 987.6,1087.0 989.7,1084.4 991.8,1081.7 993.9,1079.0 996.0,1076.3 998.0,1073.6 1000.1,1070.9 1002.2,1068.2 1004.2,1065.5 1006.3,1062.8 1008.3,1060.1 1010.4,1057.4 1012.4,1054.7 1014.4,1052.0 1016.4,1049.3 1018.5,1046.5 1020.5,1043.8 1022.5,1041.1 1024.5,1038.3 1026.4,1035.6 1028.4,1032.8 1030.4,1030.1 1032.4,1027.3 1034.3,1024.6 1036.3,1021.8 1038.2,1019.0 1040.2,1016.2 1042.1,1013.5 1044.0,1010.7 1046.0,1007.9 1047.9,1005.1 1049.8,1002.3 1051.7,999.5 1053.6,996.7 1055.5,993.9 1057.3,991.1 1059.2,988.3 1061.1,985.4 1062.9,982.6 1064.8,979.8 1066.6,976.9 1068.4,974.1 1070.3,971.2 1072.1,968.4 1073.9,965.5 1075.7,962.7 1077.5,959.8 1079.2,956.9 1081.0,954.1 1082.8,951.2 1084.5,948.3 1086.3,945.4 1088.0,942.5 1089.8,939.6 1091.5,936.7 1093.2,933.8 1094.9,930.9 1096.6,928.0 1098.3,925.0 1099.9,922.1 1101.6,919.2 1103.3,916.2 1104.9,913.3 1106.6,910.4 1108.2,907.4 1109.8,904.4 1111.4,901.5 1113.0,898.5 1114.6,895.5 1116.2,892.6 1117.8,889.6 1119.3,886.6 1120.9,883.6 1122.4,880.6 1124.0,877.6 1125.5,874.6 1127.0,871.5 1128.5,868.5 1130.0,865.5 1131.5,862.5 1132.9,859.4 1134.4,856.4 1135.8,853.3 1137.3,850.3 1138.7,847.2 1140.1,844.2 1141.6,841.1 1143.0,838.0 1144.4,835.0 1145.7,831.9 1147.1,828.8 1148.5,825.7 1149.9,822.6 1151.2,819.5 1152.6,816.4 1153.9,813.3 1155.2,810.2 1156.6,807.1 1157.9,804.0 1159.2,800.9 1160.5,797.7 1161.8,794.6 1163.1,791.5 1164.3,788.3 1165.6,785.2 1166.9,782.1 1168.2,778.9 1169.4,775.8 1170.7,772.6 1171.9,769.5 1173.2,766.3 1174.4,763.2 1175.6,760.0 1176.9,756.9 1178.1,753.7 1179.3,750.5 1180.5,747.4 1181.7,744.2 1182.9,741.0 1184.1,737.8 1185.3,734.7 1186.5,731.5 1187.7,728.3 1188.9,725.1 1190.1,721.9 1191.2,718.7 1192.4,715.6 1193.6,712.4 1194.7,709.2 1195.9,706.0 1197.1,702.8 1198.2,699.6 1199.4,696.4 1200.6,693.2 1201.7,690.0 1202.9,686.8 1204.0,683.6 1205.2,680.4 1206.3,677.2 1207.5,674.0 1208.6,670.8 1209.8,667.6 1210.9,664.4 1212.1,661.2 1213.2,658.0 1214.4,654.8 1215.5,651.6 1216.7,648.4 1217.8,645.2 1218.9,642.1 1220.1,638.9 1221.2,635.7 1222.4,632.5 1223.5,629.3 1224.7,626.1 1225.9,622.9 1227.0,619.7 1228.2,616.5 1229.3,613.3 1230.5,610.1 1231.6,606.9 1232.8,603.7 1234.0,600.5 1235.1,597.4 1236.3,594.2 1237.5,591.0 1238.7,587.8 1239.9,584.6 1241.0,581.5 1242.2,578.3 1243.4,575.1 1244.6,572.0 1245.8,568.8 1247.0,565.6 1248.2,562.5 1249.4,559.3 1250.7,556.1 1251.9,553.0 1253.1,549.8 1254.3,546.7 1255.6,543.5 1256.8,540.4 1258.1,537.3 1259.3,534.1 1260.6,531.0 1261.9,527.9 1263.1,524.7 1264.4,521.6 1265.7,518.5 1267.0,515.4 1268.3,512.3 1269.6,509.2 1270.9,506.0 1272.2,502.9 1273.6,499.9 1274.9,496.8 1276.3,493.7 1277.6,490.6 1279.0,487.5 1280.4,484.5 1281.8,481.4 1283.2,478.3 1284.6,475.3 1286.1,472.3 1287.6,469.2 1289.0,466.2 1290.5,463.2 1292.0,460.2 1293.6,457.2 1295.1,454.2 1296.7,451.2 1298.3,448.2 1299.9,445.2 1301.5,442.3 1303.2,439.3 1304.9,436.4 1306.6,433.4 1308.3,430.5 1310.0,427.6 1311.8,424.7 1313.6,421.8 1315.4,418.9 1317.3,416.0 1319.2,413.2 1321.1,410.3 1323.0,407.5 1325.0,404.7 1326.9,401.9 1329.0,399.1 1331.0,396.3 1333.2,393.6 1335.4,391.0 1337.8,388.6 1340.3,386.4 1343.0,384.5 1345.9,382.9 1348.9,381.6 1352.2,380.6 1355.4,380.0 1358.7,379.9 1362.0,380.1 1365.2,380.8 1368.4,381.9 1371.5,383.2 1374.4,384.9 1377.3,386.8 1380.1,388.8 1382.7,391.1 1385.2,393.4 1387.6,395.8 1389.8,398.4 1391.9,401.0 1394.0,403.7 1395.9,406.4 1397.7,409.3 1399.4,412.1 1401.0,415.1 1402.6,418.1 1404.1,421.1 1405.5,424.2 1406.8,427.3 1408.2,430.5 1409.4,433.6 1410.7,436.8 1411.9,440.0 1413.1,443.2 1414.3,446.4 1415.4,449.6 1416.6,452.9 1417.7,456.1 1418.9,459.3 1420.0,462.5 1421.1,465.7 1422.2,468.9 1423.2,472.1 1424.3,475.4 1425.4,478.6 1426.4,481.8 1427.4,485.0 1428.5,488.3 1429.5,491.5 1430.5,494.7 1431.5,498.0 1432.4,501.2 1433.4,504.4 1434.4,507.7 1435.3,510.9 1436.2,514.2 1437.2,517.4 1438.1,520.7 1439.0,523.9 1439.9,527.2 1440.8,530.4 1441.7,533.7 1442.6,536.9 1443.4,540.2 1444.3,543.5 1445.1,546.7 1446.0,550.0 1446.8,553.3 1447.7,556.6 1448.5,559.8 1449.3,563.1 1450.1,566.4 1450.9,569.7 1451.7,573.0 1452.5,576.3 1453.3,579.6 1454.0,582.9 1454.8,586.1 1455.6,589.4 1456.3,592.7 1457.1,596.0 1457.8,599.3 1458.6,602.6 1459.3,605.9 1460.0,609.3 1460.8,612.6 1461.5,615.9 1462.2,619.2 1462.9,622.5 1463.6,625.8 1464.3,629.1 1465.0,632.4 1465.7,635.7 1466.4,639.1 1467.1,642.4 1467.8,645.7 1468.5,649.0 1469.1,652.3 1469.8,655.7 1470.5,659.0 1471.2,662.3 1471.8,665.6 1472.5,668.9 1473.2,672.3 1473.8,675.6 1474.5,678.9 1475.1,682.2 1475.8,685.6 1476.4,688.9 1477.1,692.2 1477.7,695.5 1478.4,698.9 1479.0,702.2 1479.7,705.5 1480.3,708.9 1481.0,712.2 1481.6,715.5 1482.3,718.8 1482.9,722.2 1483.6,725.5 1484.2,728.8 1484.9,732.1 1485.5,735.5 1486.1,738.8 1486.8,742.1 1487.4,745.4 1488.1,748.8 1488.7,752.1 1489.3,755.4 1490.0,758.7 1490.6,762.1 1491.3,765.4 1491.9,768.7 1492.5,772.0 1493.2,775.4 1493.8,778.7 1494.4,782.0 1495.1,785.4 1495.7,788.7 1496.3,792.0 1497.0,795.3 1497.6,798.7 1498.2,802.0 1498.8,805.3 1499.5,808.6 1500.1,812.0 1500.7,815.3 1501.4,818.6 1502.0,821.9 1502.6,825.3 1503.2,828.6 1503.9,831.9 1504.5,835.3 1505.1,838.6 1505.7,841.9 1506.3,845.2 1507.0,848.6 1507.6,851.9 1508.2,855.2 1508.8,858.5 1509.5,861.9 1510.1,865.2 1510.7,868.5 1511.3,871.9 1511.9,875.2 1512.5,878.5 1513.2,881.8 1513.8,885.2 1514.4,888.5 1515.0,891.8 1515.6,895.2 1516.3,898.5 1516.9,901.8 1517.5,905.1 1518.1,908.5 1518.7,911.8 1519.3,915.1 1519.9,918.5 1520.6,921.8 1521.2,925.1 1521.8,928.4 1522.4,931.8 1523.0,935.1 1523.6,938.4 1524.2,941.8 1524.8,945.1 1525.5,948.4 1526.1,951.8 1526.7,955.1 1527.3,958.4 1527.9,961.7 1528.5,965.1 1529.1,968.4 1529.7,971.7 1530.4,975.1 1531.0,978.4 1531.6,981.7 1532.2,985.1 1532.8,988.4 1533.4,991.7 1534.0,995.1 1534.6,998.4 1535.2,1001.7 1535.8,1005.0 1536.5,1008.4 1537.1,1011.7 1537.7,1015.0 1538.3,1018.4 1538.9,1021.7 1539.5,1025.0 1540.2,1028.4 1540.8,1031.7 1541.4,1035.0 1542.0,1038.4 1542.6,1041.7 1543.3,1045.0 1543.9,1048.3 1544.5,1051.7 1545.2,1055.0 1545.8,1058.3 1546.4,1061.7 1547.1,1065.0 1547.7,1068.3 1548.3,1071.6 1549.0,1075.0 1549.6,1078.3 1550.3,1081.6 1550.9,1084.9 1551.6,1088.2 1552.3,1091.6 1552.9,1094.9 1553.6,1098.2 1554.3,1101.5 1554.9,1104.8 1555.6,1108.2 1556.3,1111.5 1557.0,1114.8 1557.7,1118.1 1558.4,1121.4 1559.0,1124.7 1559.7,1128.1 1560.5,1131.4 1561.2,1134.7 1561.9,1138.0 1562.6,1141.3 1563.3,1144.6 1564.0,1147.9 1564.8,1151.2 1565.5,1154.5 1566.3,1157.8 1567.0,1161.1 1567.7,1164.4 1568.5,1167.7 1569.3,1171.0 1570.0,1174.3 1570.8,1177.6 1571.6,1180.9 1572.4,1184.2 1573.2,1187.5 1574.0,1190.8 1574.8,1194.1 1575.6,1197.3 1576.4,1200.6 1577.2,1203.9 1578.0,1207.2 1578.9,1210.5 1579.7,1213.7 1580.6,1217.0 1581.4,1220.3 1582.3,1223.6 1583.2,1226.8 1584.0,1230.1 1584.9,1233.4 1585.8,1236.6 1586.7,1239.9 1587.6,1243.2 1588.5,1246.4 1589.5,1249.7 1590.4,1252.9 1591.3,1256.2 1592.3,1259.4 1593.2,1262.7 1594.2,1265.9 1595.2,1269.2 1596.1,1272.4 1597.1,1275.7 1598.1,1278.9 1599.1,1282.2 1600.2,1285.4 1601.2,1288.6 1602.2,1291.9 1603.3,1295.1 1604.3,1298.3 1605.4,1301.5 1606.4,1304.8 1607.5,1308.0 1608.6,1311.2 1609.8,1314.4 1610.9,1317.6 1612.1,1320.8 1613.3,1323.9 1614.5,1327.1 1615.8,1330.2 1617.1,1333.3 1618.5,1336.4 1619.9,1339.4 1621.3,1342.5 1622.8,1345.5 1624.4,1348.5 1626.0,1351.4 1627.7,1354.3 1629.4,1357.2 1631.2,1360.1 1633.1,1362.9 1635.1,1365.6 1637.1,1368.4 1639.3,1371.0 1641.4,1373.7 1643.7,1376.2 1646.0,1378.7 1648.4,1381.1 1650.9,1383.5 1653.5,1385.7 1656.1,1387.9 1658.7,1389.9 1661.5,1391.9 1664.3,1393.7 1667.1,1395.5 1670.1,1397.1 1673.0,1398.6 1676.1,1399.9 1679.2,1401.1 1682.3,1402.2 1685.5,1403.2 1688.7,1404.0 1692.0,1404.8 1695.3,1405.5 1698.6,1406.0 1702.0,1406.5 1705.4,1407.0 1708.8,1407.3 1712.2,1407.6 1715.7,1407.9 1719.1,1408.1 1722.6,1408.2 1726.0,1408.4 1729.5,1408.5 1733.0,1408.6 1736.4,1408.7 1739.9,1408.8 1743.3,1408.9 1746.7,1409.0 1750.1,1409.2 1753.5,1409.3 1756.9,1409.4 1760.2,1409.5 1763.6,1409.7 1766.9,1409.8 1770.3,1410.0 1773.6,1410.1 1777.0,1410.2 1780.3,1410.4 1783.6,1410.5 1787.0,1410.6 1790.3,1410.7 1793.6,1410.8 1797.0,1410.9 1800.3,1411.0 1803.6,1411.0 1807.0,1411.1 1810.4,1411.1 1813.7,1411.1 1817.1,1411.1 1820.5,1411.1 1823.9,1411.1 1827.3,1411.0 1830.8,1410.9 1834.2,1410.8 1837.7,1410.7" fill="none" stroke="#1A6FDF" stroke-width="8" stroke-linejoin="round" stroke-linecap="round" shape-rendering="crispEdges"/>
<line x1="919" y1="63" x2="1082" y2="63" stroke="#515151" stroke-width="8" stroke-linecap="round" shape-rendering="crispEdges"/>
<text x="1102.5" y="88.4" font-size="73.3">mechanical stirring 1:40 7h</text>
<line x1="919" y1="153" x2="1082" y2="153" stroke="#F14040" stroke-width="8" stroke-linecap="round" shape-rendering="crispEdges"/>
<text x="1102.5" y="178.4" font-size="73.3">virgin Elium®</text>
<line x1="919" y1="243" x2="1082" y2="243" stroke="#1A6FDF" stroke-width="8" stroke-linecap="round" shape-rendering="crispEdges"/>
<text x="1102.5" y="268.4" font-size="73.3">ultrasounds beginning 16h 1:4</text>
</svg>
</body></html>
